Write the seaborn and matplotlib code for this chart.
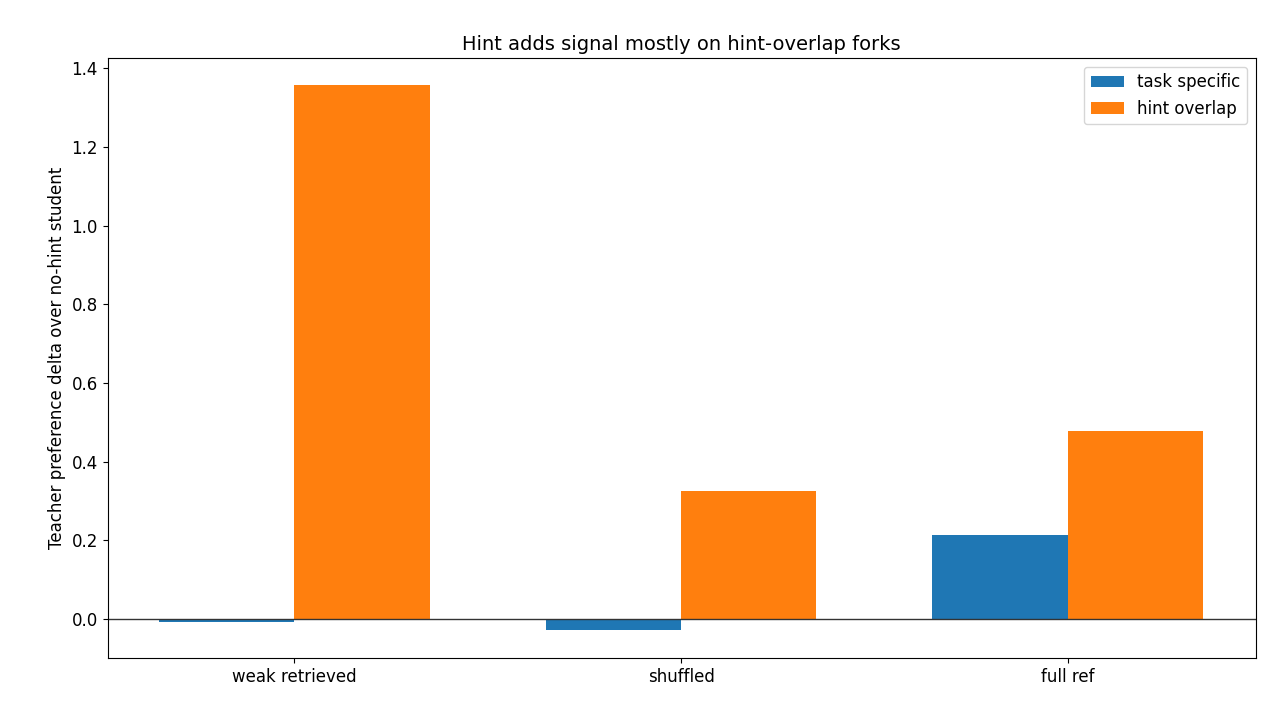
import matplotlib
matplotlib.use("Agg")
import matplotlib.pyplot as plt
import seaborn as sns
import pandas as pd

categories = ["weak retrieved", "shuffled", "full ref"]
task_specific = [-0.008, -0.028, 0.213]
hint_overlap = [1.357, 0.325, 0.478]
series = ["task specific", "hint overlap"]

df = pd.DataFrame({
    "cat": categories * 2,
    "val": task_specific + hint_overlap,
    "series": [series[0]] * 3 + [series[1]] * 3,
})

fig, ax = plt.subplots(figsize=(12.8, 7.2), dpi=100)
sns.barplot(data=df, x="cat", y="val", hue="series", ax=ax, width=0.7,
            saturation=1, palette=["#1f77b4", "#ff7f0e"], errorbar=None)
ax.axhline(0, color="#333333", lw=1)
ax.set_ylim(-0.099, 1.425)
ax.set_xlim(-0.483, 2.486)
ax.set_xlabel("")
ax.set_ylabel("Teacher preference delta over no-hint student")
ax.set_title("Hint adds signal mostly on hint-overlap forks", fontsize=14)
ax.legend(loc="upper right", title=None, fontsize=12)
ax.tick_params(labelsize=12)
ax.yaxis.label.set_size(12)
fig.subplots_adjust(left=0.084, right=0.981, top=0.919, bottom=0.086)
fig.savefig("out.png")
